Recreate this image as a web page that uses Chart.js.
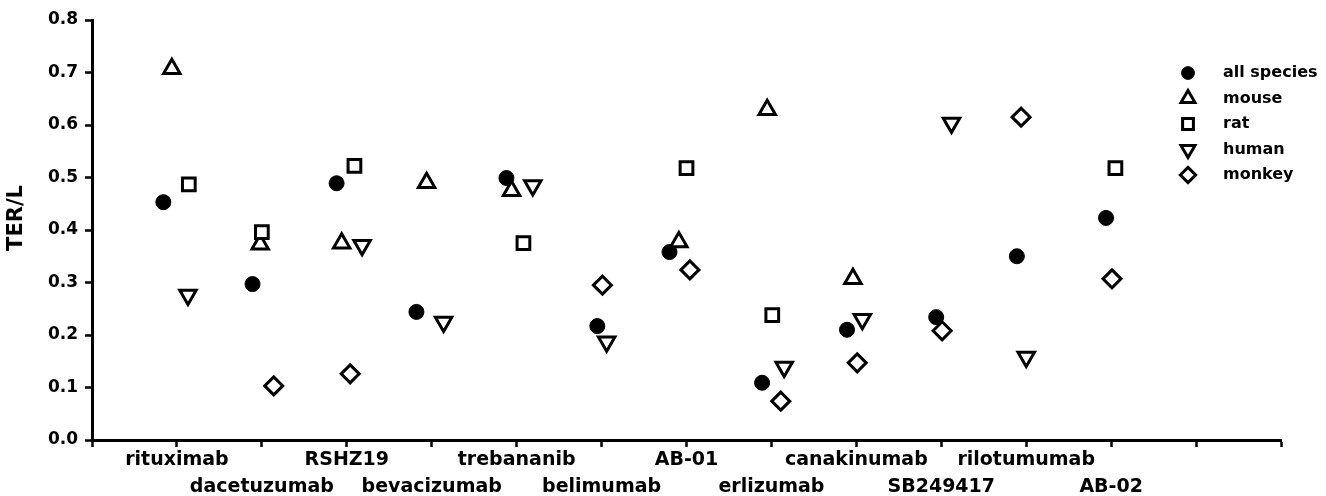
<!DOCTYPE html>
<html>
<head>
<meta charset="utf-8">
<title>TER/L by antibody and species</title>
<script src="https://cdn.jsdelivr.net/npm/chart.js@4/dist/chart.umd.min.js"></script>
<style>
  html, body { margin: 0; padding: 0; background: #fff; }
  #c { display: block; }
</style>
</head>
<body>
<canvas id="c" width="1326" height="496"></canvas>
<script>
// Antibodies along the x axis (positions 1..12; 13 and 14 are empty slots)
const drugs = ['rituximab', 'dacetuzumab', 'RSHZ19', 'bevacizumab', 'trebananib', 'belimumab',
               'AB-01', 'erlizumab', 'canakinumab', 'SB249417', 'rilotumumab', 'AB-02'];

// TER/L values per species (null = not measured)
const allSpecies = [0.453, 0.297, 0.489, 0.244, 0.499, 0.217, 0.358, 0.109, 0.210, 0.234, 0.350, 0.423];
const mouse      = [0.707, 0.373, 0.375, 0.490, 0.475, null,  0.377, 0.629, 0.307, null,  null,  null ];
const rat        = [0.487, 0.396, 0.522, null,  0.375, null,  0.518, 0.238, null,  null,  null,  0.518];
const human      = [0.276, null,  0.371, 0.225, 0.485, 0.187, null,  0.139, 0.230, 0.604, 0.158, null ];
const monkey     = [null,  0.103, 0.126, null,  null,  0.295, 0.324, 0.074, 0.147, 0.208, 0.615, 0.307];

// Horizontal jitter within each antibody slot (in category units)
const allSpeciesJitter = [-0.16, -0.11, -0.12, -0.18, -0.12, -0.05, -0.20, -0.11, -0.11, -0.06, -0.11, -0.06];
const mouseJitter      = [-0.06, -0.02, -0.06, -0.06, -0.06, 0, -0.09, -0.05, -0.04, 0, 0, 0];
const ratJitter        = [ 0.14,  0.00,  0.09,  0,     0.08, 0,  0.00,  0.01,  0,    0, 0, 0.05];
const humanJitter      = [ 0.13,  0,     0.18,  0.14,  0.19, 0.06, 0,   0.15,  0.07, 0.12, 0.00, 0];
const monkeyJitter     = [ 0,     0.14,  0.04,  0,     0,    0.01, 0.04, 0.11, 0.01, 0.01, -0.06, 0.01];

// Y axis tick values
const yTicks = [0, 0.1, 0.2, 0.3, 0.4, 0.5, 0.6, 0.7, 0.8];
const yTitle = 'TER/L';

function toPoints(values, jitter) {
  const pts = [];
  values.forEach((v, i) => {
    if (v !== null) pts.push({ x: i + 1 + jitter[i], y: v });
  });
  return pts;
}

const FONT = '"DejaVu Sans", "Liberation Sans", Arial, sans-serif';

const datasets = [
  { label: 'all species', data: toPoints(allSpecies, allSpeciesJitter), pointStyle: 'circle',
    backgroundColor: '#000', borderColor: '#000', borderWidth: 1, pointRadius: 7.5, rotation: 0, order: 5 },
  { label: 'mouse', data: toPoints(mouse, mouseJitter), pointStyle: 'triangle',
    backgroundColor: '#fff', borderColor: '#000', borderWidth: 3, pointRadius: 9.5, rotation: 0, order: 4 },
  { label: 'rat', data: toPoints(rat, ratJitter), pointStyle: 'rect',
    backgroundColor: '#fff', borderColor: '#000', borderWidth: 3, pointRadius: 9, rotation: 0, order: 3 },
  { label: 'human', data: toPoints(human, humanJitter), pointStyle: 'triangle',
    backgroundColor: '#fff', borderColor: '#000', borderWidth: 3, pointRadius: 9.5, rotation: 180, order: 2 },
  { label: 'monkey', data: toPoints(monkey, monkeyJitter), pointStyle: 'rectRot',
    backgroundColor: '#fff', borderColor: '#000', borderWidth: 3, pointRadius: 9, rotation: 0, order: 1 }
];
datasets.forEach(d => { d.pointHoverRadius = d.pointRadius; d.showLine = false; });

// Species key at the right edge and the rotated y-axis title
const annotations = {
  id: 'annotations',
  afterDraw(chart) {
    const ctx = chart.ctx;
    const markerX = 1188, textX = 1223, top = 73, step = 25.5;
    chart.data.datasets.forEach((ds, i) => {
      const y = top + i * step;
      ctx.save();
      ctx.fillStyle = ds.backgroundColor;
      ctx.strokeStyle = ds.borderColor;
      ctx.lineWidth = ds.borderWidth;
      Chart.helpers.drawPoint(ctx, {
        pointStyle: ds.pointStyle, rotation: ds.rotation,
        radius: ds.pointRadius * 0.85, borderWidth: ds.borderWidth
      }, markerX, y);
      ctx.fillStyle = '#000';
      ctx.font = 'bold 16px ' + FONT;
      ctx.textAlign = 'left';
      ctx.textBaseline = 'middle';
      ctx.fillText(ds.label, textX, y);
      ctx.restore();
    });

    ctx.save();
    ctx.translate(17, 218);
    ctx.rotate(-Math.PI / 2);
    ctx.fillStyle = '#000';
    ctx.font = 'bold 21px ' + FONT;
    ctx.textAlign = 'center';
    ctx.textBaseline = 'middle';
    ctx.fillText(yTitle, 0, 0);
    ctx.restore();
  }
};

new Chart(document.getElementById('c'), {
  type: 'scatter',
  data: { datasets },
  plugins: [annotations],
  options: {
    responsive: false,
    animation: false,
    devicePixelRatio: 1,
    layout: { padding: { top: 20, right: 45, bottom: 0, left: 0 } },
    plugins: { legend: { display: false }, tooltip: { enabled: false }, title: { display: false } },
    scales: {
      x: {
        type: 'linear', min: 0, max: drugs.length + 2,
        afterFit(s) { s.height = 56; },
        afterBuildTicks(s) {
          s.ticks = [];
          for (let k = 0; k <= drugs.length + 2; k++) s.ticks.push({ value: k });
        },
        border: { display: true, color: '#000', width: 3 },
        grid: { drawOnChartArea: false, drawTicks: true, tickLength: 7, tickWidth: 2.5, tickColor: '#000' },
        ticks: {
          autoSkip: false, maxRotation: 0, minRotation: 0, padding: 0,
          color: '#000',
          font: { family: FONT, size: 19, weight: 'bold', lineHeight: 1.42 },
          callback(v) {
            const i = Math.round(v) - 1;
            if (i < 0 || i >= drugs.length) return '';
            return i % 2 === 0 ? drugs[i] : ['', drugs[i]];
          }
        }
      },
      y: {
        type: 'linear', min: 0, max: 0.8,
        afterFit(s) { s.width = 92; },
        afterBuildTicks(s) { s.ticks = yTicks.map(v => ({ value: v })); },
        border: { display: true, color: '#000', width: 3 },
        grid: { drawOnChartArea: false, drawTicks: true, tickLength: 7, tickWidth: 2.5, tickColor: '#000' },
        title: { display: false },
        ticks: {
          padding: 7, color: '#000',
          font: { family: FONT, size: 17, weight: 'bold' },
          callback(v) { return Number(v).toFixed(1); }
        }
      }
    }
  }
});
</script>
</body>
</html>
